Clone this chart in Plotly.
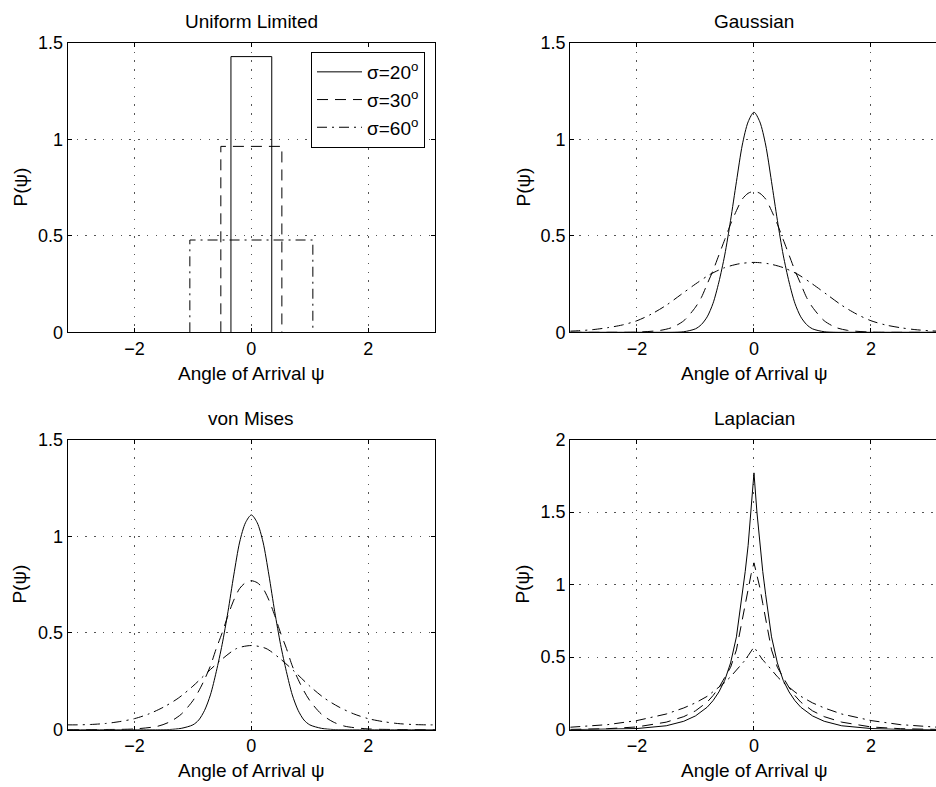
import plotly.graph_objects as go

PI = 3.14159

# ---------------- data ----------------
LEGEND_NAMES = ["σ=20<sup>o</sup>", "σ=30<sup>o</sup>", "σ=60<sup>o</sup>"]

# Uniform limited: half-width of each box (rad) and its height
UNI_HALF_WIDTH = [0.349, 0.522, 1.052]
UNI_HEIGHT = [1.428, 0.963, 0.478]

# grid for the narrow curves (σ=20°, 30°)
X_NARROW = [-3.14, -2.5, -2.0, -1.6, -1.4, -1.2, -1.0, -0.9, -0.8, -0.7, -0.6, -0.5, -0.4, -0.3, -0.2, -0.1,
            0.0, 0.1, 0.2, 0.3, 0.4, 0.5, 0.6, 0.7, 0.8, 0.9, 1.0, 1.2, 1.4, 1.6, 2.0, 2.5, 3.14]
# grid for the wide curves (σ=60°)
X_WIDE = [-3.14, -3.0, -2.75, -2.5, -2.25, -2.0, -1.75, -1.5, -1.25, -1.0, -0.75, -0.5, -0.25,
          0.0, 0.25, 0.5, 0.75, 1.0, 1.25, 1.5, 1.75, 2.0, 2.25, 2.5, 2.75, 3.0, 3.14]
# grid for the Laplacian curves
X_LAP = [-3.14, -2.5, -2.0, -1.5, -1.2, -1.0, -0.8, -0.7, -0.6, -0.5, -0.4, -0.3, -0.2, -0.15, -0.1, -0.05,
         0.0, 0.05, 0.1, 0.15, 0.2, 0.3, 0.4, 0.5, 0.6, 0.7, 0.8, 1.0, 1.2, 1.5, 2.0, 2.5, 3.14]

GAUSS_20 = [0, 0, 0, 0, 0, 0.003, 0.018, 0.04, 0.08, 0.15, 0.26, 0.40, 0.58, 0.78, 0.97, 1.09,
            1.14, 1.09, 0.97, 0.78, 0.58, 0.40, 0.26, 0.15, 0.08, 0.04, 0.018, 0.003, 0, 0, 0, 0, 0]
GAUSS_30 = [0, 0, 0.001, 0.01, 0.025, 0.06, 0.13, 0.18, 0.25, 0.32, 0.40, 0.48, 0.56, 0.63, 0.69, 0.72,
            0.73, 0.72, 0.69, 0.63, 0.56, 0.48, 0.40, 0.32, 0.25, 0.18, 0.13, 0.06, 0.025, 0.01, 0.001, 0, 0]
GAUSS_60 = [0.006, 0.008, 0.014, 0.024, 0.038, 0.06, 0.095, 0.14, 0.195, 0.25, 0.30, 0.335, 0.355,
            0.362, 0.355, 0.335, 0.30, 0.25, 0.195, 0.14, 0.095, 0.06, 0.038, 0.024, 0.014, 0.008, 0.006]

VM_20 = [0, 0, 0, 0, 0.001, 0.007, 0.025, 0.05, 0.10, 0.18, 0.30, 0.44, 0.61, 0.80, 0.97, 1.07,
         1.11, 1.07, 0.97, 0.80, 0.61, 0.44, 0.30, 0.18, 0.10, 0.05, 0.025, 0.007, 0.001, 0, 0, 0, 0]
VM_30 = [0, 0.001, 0.004, 0.018, 0.04, 0.08, 0.15, 0.20, 0.26, 0.33, 0.42, 0.50, 0.59, 0.67, 0.73, 0.76,
         0.77, 0.76, 0.73, 0.67, 0.59, 0.50, 0.42, 0.33, 0.26, 0.20, 0.15, 0.08, 0.04, 0.018, 0.004, 0.001, 0]
VM_60 = [0.025, 0.025, 0.027, 0.032, 0.042, 0.057, 0.082, 0.117, 0.163, 0.225, 0.297, 0.365, 0.42,
         0.435, 0.42, 0.365, 0.297, 0.225, 0.163, 0.117, 0.082, 0.057, 0.042, 0.032, 0.027, 0.025, 0.025]

LAP_20 = [0, 0.002, 0.008, 0.027, 0.058, 0.095, 0.155, 0.20, 0.26, 0.34, 0.46, 0.64, 0.93, 1.09, 1.27, 1.50,
          1.77, 1.50, 1.27, 1.09, 0.93, 0.64, 0.46, 0.34, 0.26, 0.20, 0.155, 0.095, 0.058, 0.027, 0.008, 0.002, 0]
LAP_30 = [0.002, 0.007, 0.019, 0.052, 0.09, 0.13, 0.19, 0.235, 0.29, 0.36, 0.43, 0.55, 0.76, 0.87, 0.98, 1.07,
          1.15, 1.07, 0.98, 0.87, 0.76, 0.55, 0.43, 0.36, 0.29, 0.235, 0.19, 0.13, 0.09, 0.052, 0.019, 0.007, 0.002]
LAP_60 = [0.017, 0.035, 0.063, 0.108, 0.15, 0.185, 0.23, 0.26, 0.29, 0.325, 0.365, 0.41, 0.46, 0.48, 0.51, 0.54,
          0.57, 0.54, 0.51, 0.48, 0.46, 0.41, 0.365, 0.325, 0.29, 0.26, 0.23, 0.185, 0.15, 0.108, 0.063, 0.035, 0.017]

TITLES = ["Uniform Limited", "Gaussian", "von Mises", "Laplacian"]
X_LABEL = "Angle of Arrival ψ"
Y_LABEL = "P(ψ)"
X_TICKS = [-2, 0, 2]
Y_TICKS_A = [0, 0.5, 1, 1.5]
Y_TICKS_B = [0, 0.5, 1, 1.5, 2]

# ---------------- styling ----------------
W, H = 936, 787
FONT = "Liberation Sans, Arial, Helvetica, sans-serif"
DASHES = ["solid", "11px,7px", "10px,5px,2px,5px"]

XL = [67.7 / W, 435.0 / W]
XR = [570.2 / W, 1.0]
YT = [1 - 332.3 / H, 1 - 42.7 / H]
YB = [1 - 729.7 / H, 1 - 439.5 / H]
X_RANGE_L = [-PI, PI]
X_RANGE_R = [-PI, -PI + (W - 570.2) / 58.5]

fig = go.Figure()

def line(dash):
    return dict(color="black", width=1, dash=dash)

# panel 1: uniform limited boxes
for i in range(3):
    a, h = UNI_HALF_WIDTH[i], UNI_HEIGHT[i]
    fig.add_trace(go.Scatter(x=[-a, -a, a, a], y=[0, h, h, 0], mode="lines",
                             line=line(DASHES[i]), name=LEGEND_NAMES[i],
                             xaxis="x", yaxis="y", showlegend=True))

panels = [
    ("x2", "y2", [(X_NARROW, GAUSS_20), (X_NARROW, GAUSS_30), (X_WIDE, GAUSS_60)], "spline"),
    ("x3", "y3", [(X_NARROW, VM_20), (X_NARROW, VM_30), (X_WIDE, VM_60)], "spline"),
    ("x4", "y4", [(X_LAP, LAP_20), (X_LAP, LAP_30), (X_LAP, LAP_60)], "linear"),
]
for xa, ya, series, shape in panels:
    for i, (xs, ys) in enumerate(series):
        fig.add_trace(go.Scatter(x=xs, y=ys, mode="lines",
                                 line=dict(color="black", width=1, dash=DASHES[i], shape=shape,
                                           smoothing=0.8 if shape == "spline" else None),
                                 xaxis=xa, yaxis=ya, showlegend=False, name=LEGEND_NAMES[i]))

def xaxis(domain, rng, anchor):
    return dict(domain=domain, range=rng, anchor=anchor, tickvals=X_TICKS,
                showline=True, linecolor="black", linewidth=1, mirror="ticks",
                ticks="inside", ticklen=4, tickcolor="black",
                showgrid=True, gridcolor="#555", gridwidth=1, griddash="1.5px,7.3px",
                zeroline=False, tickfont=dict(family=FONT, size=18, color="black"),
                automargin=False, fixedrange=True)

def yaxis(domain, rng, anchor, ticks, mirror=True):
    return dict(domain=domain, range=rng, anchor=anchor, tickvals=ticks,
                showline=True, linecolor="black", linewidth=1, mirror="ticks" if mirror else False,
                ticks="inside", ticklen=4, tickcolor="black",
                showgrid=True, gridcolor="#555", gridwidth=1, griddash="1.5px,7.3px",
                zeroline=False, tickfont=dict(family=FONT, size=18, color="black"),
                automargin=False, fixedrange=True)

fig.update_layout(
    width=W, height=H,
    margin=dict(l=0, r=0, t=0, b=0),
    paper_bgcolor="white", plot_bgcolor="white",
    font=dict(family=FONT, size=19, color="black"),
    xaxis=xaxis(XL, X_RANGE_L, "y"),
    yaxis=yaxis(YT, [0, 1.5], "x", Y_TICKS_A),
    xaxis2=xaxis(XR, X_RANGE_R, "y2"),
    yaxis2=yaxis(YT, [0, 1.5], "x2", Y_TICKS_A, mirror=False),
    xaxis3=xaxis(XL, X_RANGE_L, "y3"),
    yaxis3=yaxis(YB, [0, 1.5], "x3", Y_TICKS_A),
    xaxis4=xaxis(XR, X_RANGE_R, "y4"),
    yaxis4=yaxis(YB, [0, 2], "x4", Y_TICKS_B, mirror=False),
    legend=dict(x=425 / W, xanchor="right", y=1 - 52 / H, yanchor="top",
                bordercolor="black", borderwidth=1, bgcolor="white",
                font=dict(family=FONT, size=19, color="black"),
                itemwidth=45, tracegroupgap=0),
    showlegend=True,
)

# titles and axis labels (positions in pixels converted to paper units)
title_pos = [(251.3, 21), (754, 21), (251.3, 418.5), (754, 418.5)]
xlab_pos = [(251.3, 373), (754, 373), (251.3, 770), (754, 770)]
ylab_pos = [(20, 187.5), (523, 187.5), (20, 584.6), (523, 584.6)]
ann = []
for i in range(4):
    tx, ty = title_pos[i]
    ann.append(dict(text=TITLES[i], x=tx / W, y=1 - ty / H, xref="paper", yref="paper",
                    xanchor="center", yanchor="middle", showarrow=False,
                    font=dict(family=FONT, size=19, color="black")))
    lx, ly = xlab_pos[i]
    ann.append(dict(text=X_LABEL, x=lx / W, y=1 - ly / H, xref="paper", yref="paper",
                    xanchor="center", yanchor="middle", showarrow=False,
                    font=dict(family=FONT, size=19, color="black")))
    px, py = ylab_pos[i]
    ann.append(dict(text=Y_LABEL, x=px / W, y=1 - py / H, xref="paper", yref="paper",
                    xanchor="center", yanchor="middle", showarrow=False, textangle=-90,
                    font=dict(family=FONT, size=19, color="black")))
fig.update_layout(annotations=ann)

fig.write_html("out.html")
